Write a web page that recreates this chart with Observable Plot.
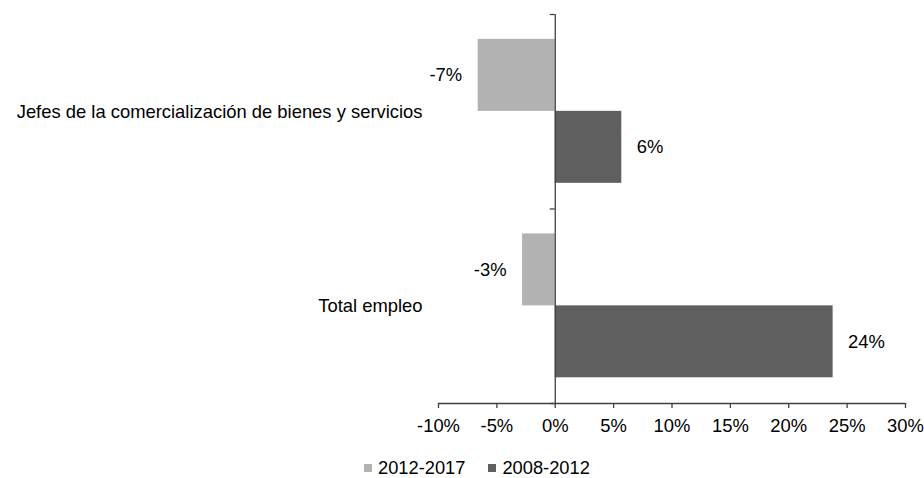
<!DOCTYPE html>
<html>
<head>
<meta charset="utf-8">
<script src="https://cdn.jsdelivr.net/npm/d3@7"></script>
<script src="https://cdn.jsdelivr.net/npm/@observablehq/plot@0.6"></script>
<style>
  body { margin: 0; background: #fff; font-family: "Liberation Sans", Arial, sans-serif; }
  #legend { display: flex; align-items: center; height: 20px; margin-top: 6px; padding-left: 364px; font-size: 18.3px; color: #000; }
  #legend .sw { width: 8px; height: 8px; margin-right: 6px; }
  #legend .item { display: flex; align-items: center; margin-right: 23px; }
</style>
</head>
<body>
<div id="chart"></div>
<div id="legend"></div>
<script>
const categories = ["Jefes de la comercialización de bienes y servicios", "Total empleo"];
const series = ["2012-2017", "2008-2012"];
const values2012_2017 = [-6.6, -2.8];
const values2008_2012 = [5.7, 23.8];
const colors = ["#b2b2b2", "#5f5f5f"];
const xTicks = [-10, -5, 0, 5, 10, 15, 20, 25, 30];

const seriesValues = [values2012_2017, values2008_2012];
const pad = 0.128, bw = 0.37;
const rows = [];
categories.forEach((c, ci) => {
  series.forEach((s, si) => {
    rows.push({cat: c, ci, series: s, si, value: seriesValues[si][ci],
      y1: ci + pad + si * bw, y2: ci + pad + (si + 1) * bw});
  });
});
const fmt = v => Math.round(v) + "%";

const chart = Plot.plot({
  width: 924,
  height: 452,
  marginLeft: 438,
  marginRight: 19,
  marginTop: 14,
  marginBottom: 49,
  style: {fontFamily: "'Liberation Sans', Arial, sans-serif", fontSize: "18.4px", color: "#000", background: "#fff"},
  x: {domain: [-10, 30], label: null},
  y: {domain: [0, 2], reverse: true, axis: null},
  color: {domain: series, range: colors},
  marks: [
    Plot.rect(rows, {x1: () => 0, x2: "value", y1: "y1", y2: "y2", fill: "series"}),
    Plot.ruleX([0], {y1: () => 0, y2: () => 2, stroke: "#404040", strokeWidth: 1.3}),
    Plot.ruleY([0, 1, 2], {x1: () => 0, x2: () => 0, y: d => d, insetLeft: -5, stroke: "#404040", strokeWidth: 1.3}),
    Plot.ruleY([2], {stroke: "#404040", strokeWidth: 1.3}),
    Plot.axisX({anchor: "bottom", ticks: xTicks, tickFormat: d => d + "%", tickSize: 5, tickPadding: 10, stroke: "#404040", strokeWidth: 1.3, label: null}),
    Plot.text(categories, {y: (d, i) => i + 0.5, frameAnchor: "left", textAnchor: "end", dx: -16, text: d => d, fill: "#000"}),
    Plot.text(rows.filter(d => d.value < 0), {x: "value", y: d => (d.y1 + d.y2) / 2, text: d => fmt(d.value), textAnchor: "end", dx: -16, fill: "#000"}),
    Plot.text(rows.filter(d => d.value >= 0), {x: "value", y: d => (d.y1 + d.y2) / 2, text: d => fmt(d.value), textAnchor: "start", dx: 15, fill: "#000"})
  ]
});
document.getElementById("chart").appendChild(chart);

const legend = document.getElementById("legend");
series.forEach((s, i) => {
  const item = document.createElement("div");
  item.className = "item";
  const sw = document.createElement("span");
  sw.className = "sw";
  sw.style.background = colors[i];
  const t = document.createElement("span");
  t.textContent = s;
  item.appendChild(sw);
  item.appendChild(t);
  legend.appendChild(item);
});
</script>
</body>
</html>
